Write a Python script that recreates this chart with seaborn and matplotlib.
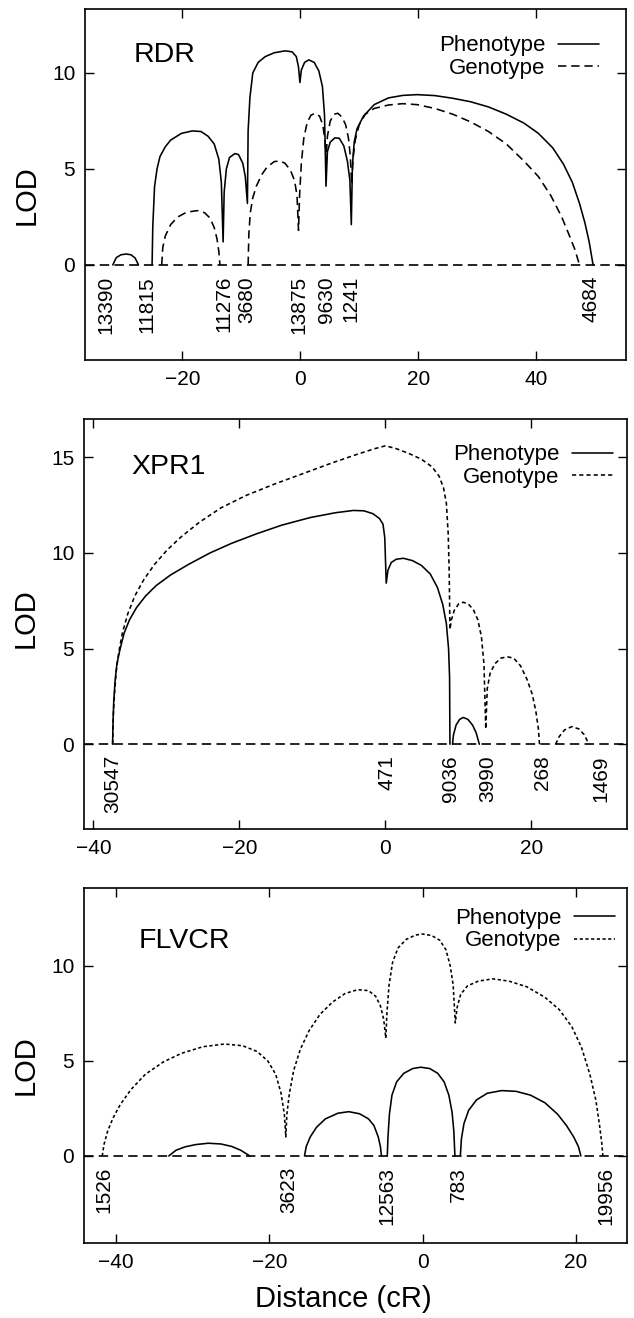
import numpy as np
import pandas as pd
import matplotlib
matplotlib.use("Agg")
import matplotlib.pyplot as plt
from matplotlib.lines import Line2D
import seaborn as sns

# ---------------- data ----------------
# RDR panel
rdr_phen_x = [[-31.79, -31.2, -30.4, -29.55, -28.7, -28.0, -27.43],
              [-25.13, -25.01, -24.71, -24.29, -23.8, -22.9, -21.99, -20.17, -18.35, -16.84, -15.63, -14.6,
               -13.81, -13.39, -13.09, -12.91, -12.54, -12.0, -11.09, -10.48, -9.76, -9.33, -8.97,
               -8.85, -8.55, -8.06, -7.15, -5.95, -4.43, -2.61, -1.4, -0.68, -0.31, -0.07,
               0.17, 0.72, 1.44, 2.35, 3.14, 3.74, 4.1, 4.35,
               4.59, 5.07, 5.86, 6.59, 7.37, 7.98, 8.4, 8.64,
               8.83, 9.13, 9.61, 10.7, 12.52, 14.94, 17.36, 19.78, 22.81, 25.84, 28.86, 31.89,
               34.92, 37.94, 40.36, 42.78, 44.6, 46.11, 47.32, 48.23, 48.96, 49.62]]
rdr_phen_y = [[0, 0.38, 0.53, 0.57, 0.53, 0.36, 0],
              [0, 2.0, 4.08, 5.0, 5.64, 6.15, 6.5, 6.85, 6.98, 6.95, 6.7, 6.3,
               5.5, 4.3, 1.2, 3.8, 5.0, 5.6, 5.8, 5.75, 5.3, 4.6, 3.2,
               7.0, 8.7, 10.0, 10.55, 10.85, 11.05, 11.15, 11.1, 10.85, 10.3, 9.5,
               10.15, 10.55, 10.68, 10.55, 10.1, 9.3, 7.8, 4.1,
               5.9, 6.4, 6.62, 6.6, 6.2, 5.4, 4.4, 2.1,
               5.2, 6.4, 7.1, 7.75, 8.35, 8.7, 8.83, 8.87, 8.82, 8.68, 8.5, 8.23,
               7.85, 7.38, 6.85, 6.1, 5.25, 4.3, 3.2, 2.2, 1.2, 0]]
rdr_gen_x = [[-23.5, -23.32, -22.9, -21.99, -20.77, -19.26, -17.45, -16.23, -15.33, -14.6, -14.12, -13.81, -13.63],
             [-8.85, -8.73, -8.49, -8.06, -7.46, -6.55, -5.64, -4.43, -3.52, -2.61, -1.71, -0.98, -0.56, -0.31,
              -0.13, 0.17, 0.59, 1.14, 1.8, 2.53, 3.26, 3.8, 4.17, 4.35,
              4.59, 5.07, 5.74, 6.35, 7.07, 7.68, 8.16, 8.46, 8.7,
              8.95, 9.31, 9.98, 11.0, 12.52, 14.94, 17.36, 19.78, 22.81, 25.84, 28.86, 31.89,
              34.92, 37.94, 40.36, 42.48, 44.3, 45.51, 46.54, 47.32]]
rdr_gen_y = [[0, 0.9, 1.5, 2.1, 2.5, 2.75, 2.83, 2.72, 2.45, 1.95, 1.35, 0.7, 0],
             [0, 1.6, 2.7, 3.5, 4.1, 4.7, 5.1, 5.38, 5.42, 5.3, 4.95, 4.4, 3.6, 1.8,
              3.6, 5.3, 6.6, 7.4, 7.8, 7.9, 7.75, 7.3, 6.5, 5.5,
              6.7, 7.5, 7.85, 7.9, 7.7, 7.3, 6.6, 5.7, 4.2,
              5.6, 6.5, 7.3, 7.85, 8.15, 8.33, 8.4, 8.35, 8.15, 7.85, 7.45, 6.95,
              6.3, 5.4, 4.6, 3.6, 2.5, 1.6, 0.8, 0]]
rdr_markers = ['13390', '11815', '11276', '3680', '13875', '9630', '1241', '4684']
rdr_marker_pos = [-32.9, -26.0, -13.0, -9.15, -0.2, 4.35, 8.6, 49.3]

# XPR1 panel
xpr_phen_x = [[-37.38, -37.33, -37.23, -37.03, -36.79, -36.4, -35.81, -35.07, -34.09, -32.86, -31.39, -29.43,
               -26.98, -24.03, -21.09, -17.65, -14.22, -10.29, -6.86, -4.4, -2.93, -1.71, -0.82, -0.33, -0.09, 0.11,
               0.35, 0.8, 1.48, 2.46, 3.69, 4.92, 6.14, 7.12, 7.86, 8.35, 8.65, 8.79, 8.84],
              [9.19, 9.33, 9.68, 10.17, 10.66, 11.3, 11.94, 12.43, 12.87]]
xpr_phen_y = [[0, 1.0, 2.2, 3.37, 4.2, 4.9, 5.8, 6.5, 7.15, 7.75, 8.3, 8.85,
               9.4, 10.0, 10.5, 11.0, 11.45, 11.85, 12.1, 12.22, 12.2, 12.05, 11.8, 11.5, 10.8, 8.42,
               9.1, 9.5, 9.67, 9.72, 9.6, 9.35, 8.9, 8.2, 7.3, 6.3, 5.0, 3.5, 0],
              [0, 0.5, 1.0, 1.3, 1.4, 1.3, 1.0, 0.6, 0]]
xpr_gen_x = [[-37.38, -37.28, -37.13, -36.89, -36.54, -36.05, -35.32, -34.34, -33.11, -31.64, -29.92, -27.96,
              -25.5, -22.56, -19.12, -15.2, -11.27, -7.35, -3.91, -1.46, 0.01, 1.48, 3.2, 4.92, 6.39, 7.37,
              7.96, 8.35, 8.6, 8.74, 8.84,
              9.04, 9.43, 10.07, 10.66, 11.3, 12.03, 12.67, 13.16, 13.5, 13.75,
              13.95, 14.34, 14.98, 15.81, 16.7, 17.58, 18.51, 19.39, 20.13, 20.62, 20.96, 21.11],
             [23.32, 23.81, 24.55, 25.53, 26.51, 27.24, 27.88]]
xpr_gen_y = [[0, 1.6, 2.6, 3.8, 4.8, 5.8, 6.8, 7.75, 8.6, 9.4, 10.15, 10.85,
              11.6, 12.35, 13.0, 13.6, 14.15, 14.7, 15.15, 15.45, 15.6, 15.45, 15.2, 14.9, 14.5, 14.0,
              13.4, 12.6, 11.0, 9.0, 6.0,
              6.5, 7.0, 7.35, 7.42, 7.35, 7.05, 6.5, 5.6, 4.2, 0.8,
              2.9, 3.7, 4.2, 4.5, 4.57, 4.5, 4.1, 3.4, 2.6, 1.7, 0.8, 0],
             [0, 0.4, 0.75, 0.92, 0.8, 0.5, 0]]
xpr_markers = ['30547', '471', '9036', '3990', '268', '1469']
xpr_marker_pos = [-37.3, 0.25, 8.85, 14.0, 21.5, 29.5]

# FLVCR panel
flv_phen_x = [[-33.13, -32.19, -31.01, -29.6, -27.96, -26.31, -24.9, -23.73, -22.55],
              [-15.41, -15.18, -14.66, -13.86, -12.69, -11.04, -9.63, -8.22, -7.05, -6.34, -5.78, -5.5, -5.36],
              [-4.6, -4.51, -4.32, -3.99, -3.38, -2.44, -1.27, -0.23, 0.94, 1.98, 2.82, 3.44, 3.86, 4.09, 4.23],
              [4.94, 5.08, 5.41, 6.02, 7.05, 8.46, 10.34, 12.22, 14.1, 15.98, 17.63, 18.8, 19.74, 20.35, 20.68]]
flv_phen_y = [[0, 0.3, 0.48, 0.6, 0.67, 0.63, 0.5, 0.3, 0],
              [0, 0.5, 1.0, 1.5, 1.95, 2.25, 2.33, 2.22, 1.95, 1.6, 1.0, 0.5, 0],
              [0, 1.0, 2.2, 3.2, 3.9, 4.35, 4.6, 4.67, 4.6, 4.35, 3.9, 3.2, 2.3, 1.3, 0],
              [0, 0.9, 1.7, 2.4, 2.95, 3.3, 3.44, 3.4, 3.2, 2.8, 2.2, 1.6, 1.0, 0.5, 0]]
flv_gen_x = [[-41.82, -41.59, -41.12, -40.41, -39.47, -38.06, -36.18, -33.83, -31.48, -28.66, -25.84, -23.49,
              -21.61, -20.2, -19.17, -18.47, -18.04, -17.85,
              -17.71, -17.38, -16.82, -15.97, -14.8, -13.39, -11.74, -10.1, -8.46, -7.05, -6.11, -5.5, -5.07, -4.79,
              -4.65, -4.37, -3.9, -3.19, -2.11, -0.94, 0.0, 1.18, 2.26, 3.06, 3.62, 4.0, 4.28,
              4.51, 4.98, 5.87, 7.29, 9.17, 11.28, 13.63, 15.98, 17.86, 19.5, 20.77, 21.85, 22.65, 23.12,
              23.4, 23.55]]
flv_gen_y = [[0, 0.6, 1.3, 2.0, 2.7, 3.5, 4.3, 4.95, 5.4, 5.75, 5.89, 5.8,
              5.5, 5.0, 4.3, 3.3, 2.2, 1.0,
              2.2, 3.3, 4.5, 5.6, 6.6, 7.45, 8.1, 8.55, 8.75, 8.7, 8.4, 7.9, 7.2, 6.2,
              7.5, 9.0, 10.2, 10.95, 11.4, 11.62, 11.68, 11.6, 11.35, 10.85, 10.0, 9.0, 7.0,
              7.8, 8.5, 8.95, 9.2, 9.32, 9.2, 8.9, 8.35, 7.7, 6.8, 5.7, 4.3, 2.9, 1.6,
              0.7, 0]]
flv_markers = ['1526', '3623', '12563', '783', '19956']
flv_marker_pos = [-41.6, -17.5, -4.7, 4.7, 23.9]

panel_names = ['RDR', 'XPR1', 'FLVCR']
legend_labels = ['Phenotype', 'Genotype']
x_ticks = [[-20, 0, 20, 40], [-40, -20, 0, 20], [-40, -20, 0, 20]]
y_ticks = [[0, 5, 10], [0, 5, 10, 15], [0, 5, 10]]


def to_frame(xs, ys):
    rows = []
    for i, (sx, sy) in enumerate(zip(xs, ys)):
        for a, b in zip(sx, sy):
            rows.append((a, b, i))
    return pd.DataFrame(rows, columns=['x', 'lod', 'seg'])


# ---------------- style ----------------
sns.set_style("ticks")
plt.rcParams['font.family'] = ['Liberation Sans', 'DejaVu Sans']
plt.rcParams['lines.scale_dashes'] = False
plt.rcParams['text.color'] = 'black'
plt.rcParams['axes.labelcolor'] = 'black'
plt.rcParams['xtick.color'] = 'black'
plt.rcParams['ytick.color'] = 'black'

fig = plt.figure(figsize=(6.34, 13.18), dpi=100)
fig.patch.set_facecolor('white')

axes_rects = [
    [85 / 634, 1 - 360 / 1318, 541 / 634, 351 / 1318],
    [84 / 634, 1 - 829 / 1318, 543 / 634, 410 / 1318],
    [84 / 634, 1 - 1243 / 1318, 543 / 634, 355 / 1318],
]
xlims = [(-36.5, 55.2), (-41.3, 33.1), (-44.2, 26.7)]
ylims = [(-4.95, 13.33), (-4.43, 17.0), (-4.58, 14.1)]
gen_dashes = [(6.0, 3.5), (3.0, 2.2), (2.3, 1.8)]
title_pos = [(0.089, 0.868), (0.087, 0.884), (0.100, 0.850)]
legend_anchor = [(0.950, 0.925), (0.974, 0.938), (0.978, 0.945)]
ylabel_y = [0.47, 0.515, 0.5]

panels = [
    (rdr_phen_x, rdr_phen_y, rdr_gen_x, rdr_gen_y, rdr_markers, rdr_marker_pos),
    (xpr_phen_x, xpr_phen_y, xpr_gen_x, xpr_gen_y, xpr_markers, xpr_marker_pos),
    (flv_phen_x, flv_phen_y, flv_gen_x, flv_gen_y, flv_markers, flv_marker_pos),
]

for i, (px, py, gx, gy, mk, mpos) in enumerate(panels):
    ax = fig.add_axes(axes_rects[i])
    ax.set_facecolor('white')
    # baseline
    ax.axhline(0, color='black', lw=1.2, dashes=(6.8, 3.8), zorder=1)
    # genotype
    n0 = len(ax.lines)
    sns.lineplot(data=to_frame(gx, gy), x='x', y='lod', units='seg', estimator=None,
                 sort=False, color='black', lw=1.15, ax=ax, legend=False)
    for ln in ax.lines[n0:]:
        ln.set_dashes(gen_dashes[i])
    # phenotype
    sns.lineplot(data=to_frame(px, py), x='x', y='lod', units='seg', estimator=None,
                 sort=False, color='black', lw=1.15, ax=ax, legend=False)

    ax.set_xlim(*xlims[i])
    ax.set_ylim(*ylims[i])
    ax.set_xticks(x_ticks[i])
    ax.set_yticks(y_ticks[i])
    ax.tick_params(direction='in', length=6.5, width=1.0, top=True, right=True,
                   labelsize=15, pad=7, colors='black')
    for s in ax.spines.values():
        s.set_visible(True)
        s.set_linewidth(1.2)
        s.set_color('black')

    # marker labels
    for name, pos in zip(mk, mpos):
        ax.annotate(name, xy=(pos, 0), xytext=(0, -11), textcoords='offset pixels',
                    rotation=90, ha='center', va='top', fontsize=15, color='black')

    ax.text(title_pos[i][0], title_pos[i][1], panel_names[i], transform=ax.transAxes,
            fontsize=20.5, ha='left', va='center', color='black')

    handles = [Line2D([], [], color='black', lw=1.15),
               Line2D([], [], color='black', lw=1.15, dashes=gen_dashes[i])]
    leg = ax.legend(handles, legend_labels, loc='upper right', bbox_to_anchor=legend_anchor[i],
                    frameon=False, markerfirst=False, fontsize=16, handlelength=1.85,
                    handletextpad=0.55, labelspacing=0.08, borderpad=0, borderaxespad=0)
    for t in leg.get_texts():
        t.set_color('black')

    ax.set_ylabel('LOD', fontsize=21)
    ax.yaxis.set_label_coords(-0.082, ylabel_y[i])
    if i == 2:
        ax.set_xlabel('Distance (cR)', fontsize=21)
        ax.xaxis.set_label_coords(0.477, -0.118)
    else:
        ax.set_xlabel('')

fig.savefig('out.png', dpi=100, facecolor='white')
